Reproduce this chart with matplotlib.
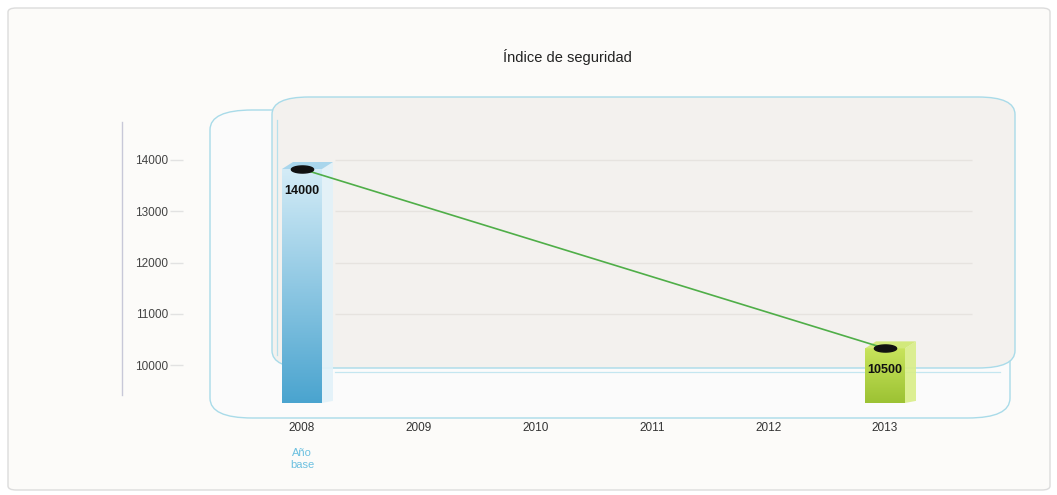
import numpy as np
import matplotlib
matplotlib.use("Agg")
import matplotlib.pyplot as plt
from matplotlib.patches import FancyBboxPatch, Polygon
from matplotlib.lines import Line2D
from matplotlib.path import Path
from matplotlib.markers import MarkerStyle
from matplotlib.colors import LinearSegmentedColormap
import matplotlib.transforms as mtransforms

# ---- data ----
years = [2008, 2009, 2010, 2011, 2012, 2013]
point_years = [2008, 2013]
point_values = [14000, 10500]
point_labels = ["14000", "10500"]
yticks = [10000, 11000, 12000, 13000, 14000]
title = "Índice de seguridad"
base_label = "Año\nbase"

W, H = 1057, 495
fig = plt.figure(figsize=(W / 100, H / 100), dpi=100)
fig.patch.set_facecolor("white")

def fx(px):
    return px / W

def fy(py):
    return 1 - py / H

# outer border
fig.patches.append(FancyBboxPatch((fx(8), fy(490)), fx(1042), (482) / H,
                                  boxstyle="round,pad=0,rounding_size=0.008",
                                  transform=fig.transFigure, facecolor="#fcfbf9",
                                  edgecolor="#dcdcdc", linewidth=1.0, zorder=-5))
# left wall + floor frame
fig.patches.append(FancyBboxPatch((fx(210), fy(418)), fx(800), (418 - 110) / H,
                                  boxstyle="round,pad=0,rounding_size=0.04",
                                  transform=fig.transFigure, facecolor="#fbfbfb",
                                  edgecolor="#a9dbe9", linewidth=1.0, zorder=-4))
# back wall
fig.patches.append(FancyBboxPatch((fx(272), fy(368)), fx(743), (368 - 97) / H,
                                  boxstyle="round,pad=0,rounding_size=0.035",
                                  transform=fig.transFigure, facecolor="#f3f1ee",
                                  edgecolor="#a9dbe9", linewidth=1.0, zorder=-3))
fig.lines.append(Line2D([fx(277), fx(277)], [fy(120), fy(355)], transform=fig.transFigure,
                        color="#b6e0ec", linewidth=0.9, zorder=-2))
fig.lines.append(Line2D([fx(335), fx(1000)], [fy(372), fy(372)], transform=fig.transFigure,
                        color="#c4e6f0", linewidth=0.9, zorder=-2))
# y axis vertical line
fig.lines.append(Line2D([fx(122), fx(122)], [fy(122), fy(395)], transform=fig.transFigure,
                        color="#c8c8d8", linewidth=1.0, zorder=-2))

fig.text(fx(567), fy(57), title, ha="center", va="center", fontsize=10.5,
         color="#222222", family="Liberation Sans")

left_px, right_px = 183, 1015
bot_px, top_px = 403, 100
ax = fig.add_axes([fx(left_px), fy(bot_px), (right_px - left_px) / W, (bot_px - top_px) / H])
ax.set_facecolor("none")
for s in ax.spines.values():
    s.set_visible(False)

step = (885 - 302) / 5
xlim = (2008 - (302 - left_px) / step, 2013 + (right_px - 885) / step)
per_k = (365 - 160) / 4
ylim = (10000 - (bot_px - 365) / per_k * 1000, 14000 + (160 - top_px) / per_k * 1000)
depth_px = 9  # 3D depth shift of the series
base_val = 10000 - (bot_px - depth_px - 365) / per_k * 1000

ax.set_xticks(years)
ax.set_xticklabels([str(y) for y in years])
ax.set_yticks(yticks)
ax.tick_params(axis="x", length=0, pad=14, labelsize=8.5, labelcolor="#333333")
ax.tick_params(axis="y", direction="out", length=9.4, width=1.0, color="#e2e2e2",
               pad=1.5, labelsize=8.5, labelcolor="#444444")
for lab in ax.get_xticklabels() + ax.get_yticklabels():
    lab.set_family("Liberation Sans")

# faint gridlines on back wall
ax.hlines(yticks[1:], 2008.28, 2013.75, colors="#e6e3df", linewidth=1.0, zorder=1)

shift = mtransforms.offset_copy(ax.transData, fig=fig, x=0, y=-depth_px, units="dots")

# bars
bar_w = 40 / step
side_w = 11 / step
top_h = 7 / per_k * 1000
colors = [("#d4ecf7", "#4aa4cf", "#e2f2f9", "#a9d6ec"),
          ("#c8e45c", "#9cc233", "#d9ee88", "#d2e97c")]
for xv, v, (ctop, cbot, cside, ctopface) in zip(point_years, point_values, colors):
    bars = ax.bar([xv], [v - base_val], bottom=base_val, width=bar_w, color=cbot,
                  zorder=2, linewidth=0, transform=shift)
    b = bars[0]
    cmap = LinearSegmentedColormap.from_list("g", [cbot, ctop])
    grad = np.linspace(0, 1, 256).reshape(-1, 1)
    x0 = xv - bar_w / 2
    im = ax.imshow(grad, extent=[x0, x0 + bar_w, base_val, v], origin="lower",
                   aspect="auto", cmap=cmap, zorder=2.1, transform=shift)
    im.set_clip_path(b)
    side = Polygon([(x0 + bar_w, base_val), (x0 + bar_w + side_w, base_val + top_h * 0.3),
                    (x0 + bar_w + side_w, v + top_h), (x0 + bar_w, v)],
                   closed=True, facecolor=cside, edgecolor="none", zorder=2.2,
                   alpha=0.9, transform=shift)
    ax.add_patch(side)
    topf = Polygon([(x0, v), (x0 + bar_w, v), (x0 + bar_w + side_w, v + top_h),
                    (x0 + side_w, v + top_h)],
                   closed=True, facecolor=ctopface, edgecolor="none", zorder=2.3,
                   transform=shift)
    ax.add_patch(topf)
ax.set_xlim(*xlim)
ax.set_ylim(*ylim)

# line with elliptical markers
t = np.linspace(0, 2 * np.pi, 40)
ell = Path(np.column_stack([np.cos(t), 0.32 * np.sin(t)]), closed=True)
ax.plot(point_years, point_values, color="#4fae48", linewidth=1.2, zorder=3,
        transform=shift)
ax.plot(point_years, point_values, linestyle="none", marker=MarkerStyle(ell),
        markersize=16, markerfacecolor="#111111", markeredgecolor="#111111", zorder=4,
        transform=shift)

for xv, v, lab in zip(point_years, point_values, point_labels):
    off = mtransforms.offset_copy(ax.transData, fig=fig, x=0, y=-depth_px - 22, units="dots")
    ax.text(xv, v, lab, transform=off, ha="center", va="center", fontsize=9,
            fontweight="bold", color="#111111", family="Liberation Sans", zorder=5)

offb = mtransforms.offset_copy(ax.get_xaxis_transform(), fig=fig, x=0, y=-56, units="dots")
ax.text(years[0], 0, base_label, transform=offb, ha="center", va="center",
        fontsize=8, color="#6cc0e0", linespacing=1.3, family="Liberation Sans")

fig.savefig("out.png", dpi=100, facecolor=fig.get_facecolor())
